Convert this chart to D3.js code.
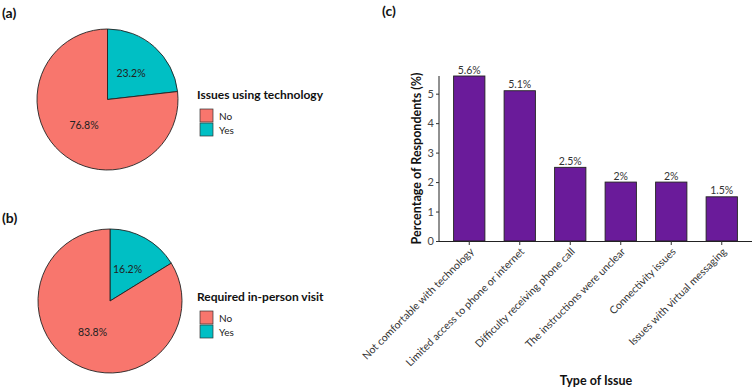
<!DOCTYPE html>
<html><head><meta charset="utf-8">
<script src="https://cdn.jsdelivr.net/npm/d3@7"></script>
<style>
body{margin:0;background:#fff;}
text{font-family:Lato, "Open Sans", sans-serif;}
</style></head>
<body>
<svg id="c" width="756" height="390"></svg>
<script>
// ---- data ----
const pieCategories = ["Yes", "No"];
const pieAValues = [23.2, 76.8];
const pieBValues = [16.2, 83.8];
const legendOrder = ["No", "Yes"];
const pieATitle = "Issues using technology";
const pieBTitle = "Required in-person visit";

const issueCategories = [
  "Not comfortable with technology",
  "Limited access to phone or internet",
  "Difficulty receiving phone call",
  "The instructions were unclear",
  "Connectivity issues",
  "Issues with virtual messaging"
];
const issueValues = [5.6, 5.1, 2.5, 2, 2, 1.5];
const issueLabels = ["5.6%", "5.1%", "2.5%", "2%", "2%", "1.5%"];
const yTicks = [0, 1, 2, 3, 4, 5];

// ---- drawing ----
const svg = d3.select("#c");
const color = d3.scaleOrdinal().domain(["No", "Yes"]).range(["#F8766D", "#00BFC4"]);

function panelLabel(txt, x, y) {
  svg.append("text").attr("x", x).attr("y", y).text(txt)
    .attr("font-size", 14).attr("font-weight", "bold").attr("fill", "#111");
}
panelLabel("(a)", 2, 18);
panelLabel("(b)", 2, 223);
panelLabel("(c)", 382, 16);

function drawPie(values, cx, cy, r, title, lx, ly) {
  const data = pieCategories.map((c, i) => ({cat: c, v: values[i]}));
  const pie = d3.pie().sort(null).value(d => d.v);
  const arcs = pie(data);
  const arc = d3.arc().innerRadius(0).outerRadius(r);
  const labArc = d3.arc().innerRadius(r / 2).outerRadius(r / 2);
  const g = svg.append("g").attr("transform", `translate(${cx},${cy})`);
  g.selectAll("path").data(arcs).join("path")
    .attr("d", arc).attr("fill", d => color(d.data.cat))
    .attr("stroke", "#222").attr("stroke-width", 0.9);
  g.selectAll("text").data(arcs).join("text")
    .attr("transform", d => `translate(${labArc.centroid(d)})`)
    .attr("text-anchor", "middle").attr("dy", "0.35em")
    .attr("font-size", 10.5).attr("fill", "#222")
    .text(d => d.data.v.toFixed(1) + "%");
  // legend
  const lg = svg.append("g").attr("transform", `translate(${lx},${ly})`);
  lg.append("text").attr("x", -2).attr("y", 0).text(title)
    .attr("font-size", 12).attr("font-weight", "bold").attr("fill", "#111");
  legendOrder.forEach((c, i) => {
    lg.append("rect").attr("x", 1).attr("y", 10 + i * 14).attr("width", 13).attr("height", 13)
      .attr("fill", color(c)).attr("stroke", "#333").attr("stroke-width", 0.7);
    lg.append("text").attr("x", 20).attr("y", 17 + i * 14).attr("dy", "0.35em")
      .attr("font-size", 10).attr("fill", "#222").text(c);
  });
}
drawPie(pieAValues, 107.5, 99.5, 70.5, pieATitle, 199, 99);
drawPie(pieBValues, 110, 301, 72, pieBTitle, 199, 301);

// ---- bar chart ----
const x = d3.scaleBand().domain(issueCategories).range([444, 747])
  .paddingInner(0.38).paddingOuter(0.19);
const y = d3.scaleLinear().domain([0, 5.6]).range([241, 76]);

const bars = svg.append("g");
bars.selectAll("rect").data(issueValues).join("rect")
  .attr("x", (d, i) => x(issueCategories[i]))
  .attr("y", d => y(d))
  .attr("width", x.bandwidth())
  .attr("height", d => y(0) - y(d))
  .attr("fill", "#6A1B9A").attr("stroke", "#222").attr("stroke-width", 0.9);

bars.selectAll("text.v").data(issueValues).join("text").attr("class", "v")
  .attr("x", (d, i) => x(issueCategories[i]) + x.bandwidth() / 2)
  .attr("y", d => y(d) - 2.5)
  .attr("text-anchor", "middle").attr("font-size", 10.5).attr("fill", "#333")
  .text((d, i) => issueLabels[i]);

// y axis
const yAxis = svg.append("g").attr("transform", "translate(439,0)")
  .call(d3.axisLeft(y).tickValues(yTicks).tickSize(3).tickFormat(d3.format("d")));
yAxis.select(".domain").attr("d", `M0,${y(5.6)}V${y(0)}`).attr("stroke", "#222");
yAxis.selectAll(".tick line").attr("stroke", "#333");
yAxis.selectAll(".tick text").attr("font-size", 11).attr("fill", "#444").attr("x", -5)
  .attr("font-family", "Lato, sans-serif");

// x axis
const xAxis = svg.append("g").attr("transform", "translate(0,241)")
  .call(d3.axisBottom(x).tickSize(4).tickSizeOuter(0));
xAxis.select(".domain").attr("d", "M439,0.5H752").attr("stroke", "#222");
xAxis.selectAll(".tick line").attr("stroke", "#333");
xAxis.selectAll(".tick text")
  .attr("font-size", 10.5).attr("fill", "#333").attr("font-family", "Lato, sans-serif")
  .attr("text-anchor", "end").attr("x", 0).attr("y", 0).attr("dy", "0.71em")
  .attr("transform", "translate(0,6) rotate(-45)");

// axis titles
svg.append("text").attr("transform", `translate(421,${(y(0) + y(5.6)) / 2}) rotate(-90)`)
  .attr("text-anchor", "middle").attr("font-size", 12.5).attr("font-weight", "bold")
  .attr("fill", "#111").text("Percentage of Respondents (%)");
svg.append("text").attr("x", 596).attr("y", 385).attr("text-anchor", "middle")
  .attr("font-size", 12.5).attr("font-weight", "bold").attr("fill", "#111").text("Type of Issue");
</script>
</body></html>
